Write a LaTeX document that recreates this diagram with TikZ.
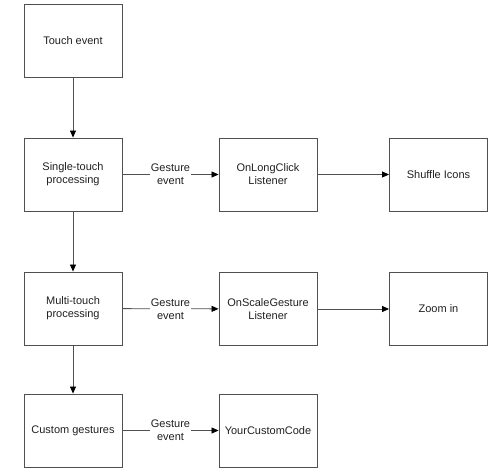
\documentclass[tikz,border=0pt]{standalone}
\usepackage{fontspec}
\setmainfont{Liberation Sans}
\usetikzlibrary{arrows.meta}
\definecolor{linegray}{HTML}{505050}
\definecolor{textgray}{HTML}{202020}
\begin{document}
\begin{tikzpicture}[x=1pt,y=-1pt,
  box/.style={draw=linegray,line width=0.9pt,minimum width=98pt,minimum height=73pt,align=center,font=\fontsize{11}{13}\selectfont,text=textgray,inner sep=1pt},
  conn/.style={draw=linegray,line width=0.8pt,-{Triangle[length=7pt,width=6pt,fill=black,color=black]}},
  lbl/.style={fill=white,align=center,font=\fontsize{11}{13}\selectfont,text=textgray,inner sep=1pt}]
\useasboundingbox (0,0) rectangle (500,470);
\node[box] (touch) at (73,40.5) {Touch event};
\node[box] (single) at (73,174.5) {Single-touch\\processing};
\node[box] (multi) at (73,308.5) {Multi-touch\\processing};
\node[box] (custom) at (73,430.5) {Custom gestures};
\node[box] (longclick) at (268,174.5) {OnLongClick\\Listener};
\node[box] (scale) at (268,309) {OnScaleGesture\\Listener};
\node[box] (yourcode) at (268,430.5) {YourCustomCode};
\node[box] (shuffle) at (438.5,174.5) {Shuffle Icons};
\node[box] (zoom) at (438.5,309) {Zoom in};
\draw[conn] (touch) -- (single);
\draw[conn] (single) -- (multi);
\draw[conn] (multi) -- (custom);
\draw[conn] (single) -- node[lbl] {Gesture\\event} (longclick);
\draw[conn] (multi) -- node[lbl] {Gesture\\event} (scale);
\draw[conn] (custom) -- node[lbl] {Gesture\\event} (yourcode);
\draw[conn] (longclick) -- (shuffle);
\draw[conn] (scale) -- (zoom);
\end{tikzpicture}
\end{document}
